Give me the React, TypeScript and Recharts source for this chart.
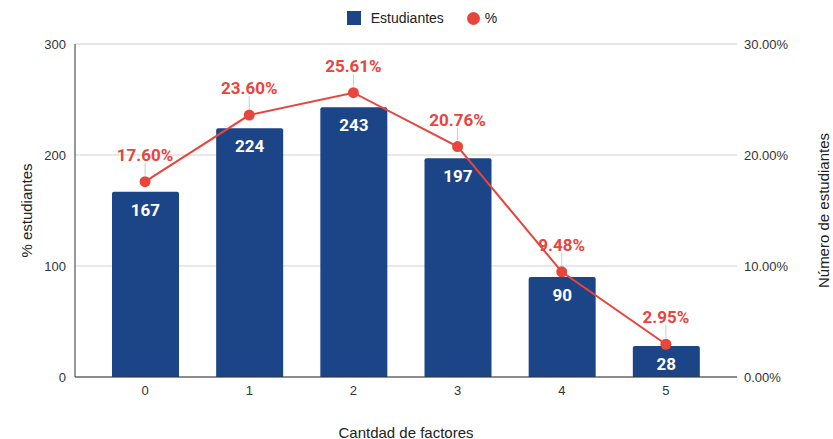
import React from 'react';
import { ComposedChart, Bar, Line, XAxis, YAxis, CartesianGrid, Legend, Label } from 'recharts';

const categories = ['0', '1', '2', '3', '4', '5'];
const students = [167, 224, 243, 197, 90, 28];
const percents = [17.6, 23.6, 25.61, 20.76, 9.48, 2.95];
const leftTicks = [0, 100, 200, 300];
const rightTicks = [0, 10, 20, 30];

const data = categories.map((c, i) => ({ cat: c, est: students[i], pct: percents[i] }));

const BLUE = '#1c4587';
const RED = '#e8453c';
const AX_FONT = 'Arial, "Liberation Sans", sans-serif';
const LBL_FONT = 'Roboto, Arial, sans-serif';

const BarLabel = (props: any) => {
  const { x, y, width, value } = props;
  return (
    <text x={x + width / 2} y={y + 18} textAnchor="middle" dominantBaseline="central" fill="#fff" fontWeight="bold" fontSize={17} fontFamily={LBL_FONT}>
      {value}
    </text>
  );
};

const LineLabel = (props: any) => {
  const { x, y, value } = props;
  return (
    <g>
      <line x1={x} x2={x} y1={y - 6} y2={y - 19} stroke="#ccc" strokeWidth={1} />
      <text x={x} y={y - 27} textAnchor="middle" dominantBaseline="central" fill={RED} fontWeight="bold" fontSize={17} fontFamily={LBL_FONT}>
        {value.toFixed(2)}%
      </text>
    </g>
  );
};

const LeftAxisTitle = (props: any) => {
  const vb = props.viewBox;
  const cx = vb.x + 26;
  const cy = vb.y + vb.height / 2;
  return (
    <text x={cx} y={cy} transform={`rotate(-90 ${cx} ${cy})`} textAnchor="middle" dominantBaseline="central" fontSize={15} fill="#222" fontFamily={AX_FONT}>
      % estudiantes
    </text>
  );
};

const RightAxisTitle = (props: any) => {
  const vb = props.viewBox;
  const cx = vb.x + 86;
  const cy = vb.y + vb.height / 2;
  return (
    <text x={cx} y={cy} transform={`rotate(-90 ${cx} ${cy})`} textAnchor="middle" dominantBaseline="central" fontSize={15} fill="#222" fontFamily={AX_FONT}>
      Número de estudiantes
    </text>
  );
};

const XAxisTitle = (props: any) => {
  const vb = props.viewBox;
  return (
    <text x={vb.x + vb.width / 2} y={vb.y + 55} textAnchor="middle" dominantBaseline="central" fontSize={15} fill="#222" fontFamily={AX_FONT}>
      Cantdad de factores
    </text>
  );
};

const LegendContent = () => (
  <div style={{ display: 'flex', justifyContent: 'center', alignItems: 'center', height: 24, paddingLeft: 11, fontFamily: AX_FONT, fontSize: 14, color: '#222' }}>
    <span style={{ display: 'inline-block', width: 14, height: 14, background: BLUE, marginRight: 10 }} />
    <span style={{ marginRight: 23 }}>Estudiantes</span>
    <span style={{ display: 'inline-block', width: 13, height: 13, borderRadius: 7, background: RED, marginRight: 5 }} />
    <span>%</span>
  </div>
);

export default function App() {
  return (
    <div style={{ position: 'absolute', left: 0, top: 0 }}>
      <ComposedChart width={833} height={439} data={data} margin={{ top: 20, right: 0, bottom: 0, left: 0 }}>
        <Legend verticalAlign="top" align="center" content={<LegendContent />} wrapperStyle={{ top: 6, height: 24 }} />
        <CartesianGrid vertical={false} stroke="#d0d0d0" yAxisId="left" />
        <XAxis dataKey="cat" padding={{ left: 18, right: 19 }} axisLine={{ stroke: '#333' }} tickLine={false} tickSize={0} tickMargin={9} height={62} tick={{ fill: '#333', fontSize: 13, fontFamily: AX_FONT }}>
          <Label content={<XAxisTitle />} />
        </XAxis>
        <YAxis yAxisId="left" domain={[0, 300]} ticks={leftTicks} width={75} axisLine={{ stroke: '#333' }} tickLine={false} tickSize={0} tickMargin={9} tick={{ fill: '#333', fontSize: 13, fontFamily: AX_FONT }}>
          <Label content={<LeftAxisTitle />} />
        </YAxis>
        <YAxis yAxisId="right" orientation="right" domain={[0, 30]} ticks={rightTicks} width={96} axisLine={false} tickLine={false} tickSize={0} tickMargin={7} tickFormatter={(v: number) => `${v.toFixed(2)}%`} tick={{ fill: '#333', fontSize: 13, fontFamily: AX_FONT }}>
          <Label content={<RightAxisTitle />} />
        </YAxis>
        <Bar yAxisId="left" dataKey="est" name="Estudiantes" fill={BLUE} barSize={67} radius={[2, 2, 0, 0]} isAnimationActive={false} label={<BarLabel />} />
        <Line yAxisId="right" dataKey="pct" name="%" stroke={RED} strokeWidth={2} dot={{ r: 5.5, fill: RED, stroke: RED, strokeWidth: 0 }} activeDot={false} isAnimationActive={false} label={<LineLabel />} />
      </ComposedChart>
    </div>
  );
}
